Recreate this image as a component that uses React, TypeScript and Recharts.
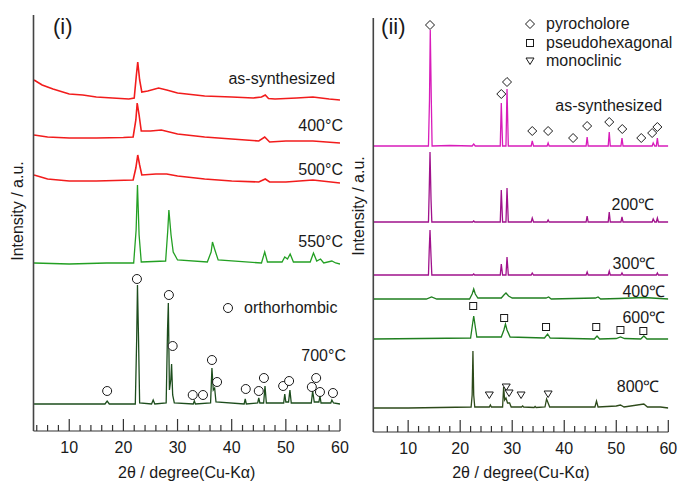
import {
  ComposedChart,
  Line,
  Scatter,
  XAxis,
  YAxis,
  ReferenceDot,
  Legend,
} from 'recharts';

type Pt = [number, number];

// ---- panel (i): 2θ (deg) / stacked intensity (a.u.) ----
const iSynth: Pt[] = [
  [3.5, 351], [5, 346], [7, 342], [10, 337], [12.5, 336], [15, 334], [18, 333],
  [21, 332], [22, 333], [22.4, 356], [22.65, 369], [23, 351], [23.4, 339],
  [24.5, 340], [26.5, 343], [28, 341], [30, 338], [35, 335], [40, 334],
  [44, 333], [45.5, 334], [46.2, 336], [46.8, 332.5], [48, 332], [52, 333],
  [55, 334], [58, 332], [60, 331],
];
const i400: Pt[] = [
  [3.5, 296], [6, 294], [10, 293], [15, 293], [20, 293.5], [21.8, 294],
  [22.3, 311], [22.55, 328], [22.9, 316], [23.3, 300], [25, 300], [27, 301],
  [30, 297], [35, 294], [40, 292], [45, 290], [46.1, 294], [47, 289],
  [50, 290], [55, 290], [60, 288],
];
const i500: Pt[] = [
  [3.5, 256], [6, 252], [10, 250], [15, 250], [21.8, 251], [22.3, 263],
  [22.65, 276], [23, 266], [23.4, 256], [26, 257], [28, 257], [30, 255],
  [35, 252], [40, 250], [45, 249], [46.2, 252], [47, 249], [50, 249],
  [55, 251], [60, 248],
];
const i550: Pt[] = [
  [3.5, 168], [10, 167], [16.9, 168], [21.9, 168], [22.35, 201], [22.6, 246],
  [22.9, 196], [23.3, 169], [27.8, 170], [28.2, 201], [28.4, 221], [28.8, 196],
  [29.2, 179], [30, 171], [35.5, 169], [36.2, 179], [36.45, 189], [36.9, 181],
  [37.5, 171], [45.5, 168], [46.1, 179], [46.6, 169], [49.3, 169], [49.8, 174],
  [50.3, 172], [50.8, 177], [51.4, 169], [54.5, 169], [55.1, 178], [55.7, 170],
  [56.4, 172], [57, 168], [58.5, 170], [59.2, 168], [60, 167],
];
const i700: Pt[] = [
  [3.5, 27], [16.6, 27], [17, 30], [17.4, 27], [22.2, 27], [22.45, 91],
  [22.6, 146], [22.8, 91], [23, 28], [25.2, 27], [25.5, 31], [25.8, 27],
  [27.9, 28], [28.15, 101], [28.3, 128], [28.5, 41], [28.75, 51], [28.9, 67],
  [29.1, 36], [29.4, 28], [32.9, 27], [33.1, 30], [33.3, 27], [36.1, 28],
  [36.35, 63], [36.6, 41], [36.85, 43], [37.1, 29], [42.3, 27], [42.5, 32],
  [42.7, 27], [44.8, 28], [45, 33], [45.2, 28], [45.9, 28], [46.15, 45],
  [46.4, 28], [49.6, 28], [49.8, 37], [50, 29], [50.5, 29], [50.75, 41],
  [51, 28], [54.7, 28], [54.95, 40], [55.25, 29], [56.1, 29], [56.3, 35],
  [56.5, 28], [58.3, 28], [58.5, 31], [58.8, 28], [60, 27],
];
const orthoMarks: Pt[] = [
  [17, 40], [22.5, 152], [28.4, 136], [29.1, 85], [32.8, 36], [34.7, 36],
  [36.35, 71], [37.3, 49], [42.6, 42], [45, 40], [45.95, 53], [49.5, 45],
  [50.6, 50], [54.8, 44], [55.6, 53], [56.3, 39], [58.7, 38],
];

// ---- panel (ii) ----
const iiSynth: Pt[] = [
  [3.3, 286], [13.9, 286], [14.1, 332], [14.25, 402], [14.45, 332], [14.6, 286],
  [18, 286.5], [22.3, 286], [22.6, 288], [22.9, 286], [27.7, 286], [27.9, 329],
  [28.15, 286], [28.8, 286], [29.0, 343], [29.25, 286], [33.65, 286], [33.85, 291],
  [34.1, 286], [36.7, 286], [36.9, 289], [37.1, 286], [44.2, 286], [44.4, 295],
  [44.6, 286], [48.45, 286], [48.65, 300], [48.85, 286], [50.9, 286], [51.1, 294],
  [51.3, 286], [56.9, 286], [57.1, 289], [57.4, 286], [57.7, 286], [57.9, 294],
  [58.1, 286], [60, 286],
];
const ii200: Pt[] = [
  [3.3, 210], [13.9, 210], [14.05, 242], [14.2, 280], [14.4, 232], [14.55, 210],
  [22.4, 210], [22.6, 211], [22.8, 210], [27.7, 210], [27.9, 242], [28.15, 210],
  [28.8, 210], [29.0, 244], [29.25, 210], [33.65, 210], [33.85, 214], [34.1, 210],
  [36.7, 210], [36.9, 212], [37.1, 210], [44.2, 210], [44.4, 216], [44.6, 210],
  [48.45, 210], [48.65, 220], [48.85, 210], [50.9, 210], [51.1, 215], [51.3, 210],
  [56.9, 210], [57.1, 213], [57.4, 210], [57.7, 210], [57.9, 214], [58.1, 210],
  [60, 210],
];
const ii300: Pt[] = [
  [3.3, 157], [13.9, 157], [14.05, 182], [14.2, 202], [14.4, 175], [14.55, 157],
  [22.4, 157], [22.6, 158], [22.8, 157], [27.7, 157], [27.9, 168], [28.15, 157],
  [28.8, 157], [29.0, 175], [29.25, 157], [33.65, 157], [33.85, 159], [34.1, 157],
  [44.2, 157], [44.4, 160], [44.6, 157], [48.45, 157], [48.65, 161], [48.85, 157],
  [50.9, 157], [51.1, 159], [51.3, 157], [57.7, 157], [57.9, 159], [58.1, 157],
  [60, 157],
];
const ii400: Pt[] = [
  [3.3, 133], [13.5, 133], [14.5, 135], [15.5, 133], [21.8, 133], [22.3, 138],
  [22.6, 143], [22.9, 138], [23.4, 134], [27.9, 134], [28.4, 137], [28.8, 139],
  [29.3, 136], [30, 134], [36.5, 134], [37, 135], [37.5, 133], [46, 134],
  [46.5, 135], [47, 133], [50.5, 133.5], [55.2, 134.5], [60, 133],
];
const ii600: Pt[] = [
  [3.3, 93], [22, 94], [22.35, 107], [22.6, 116], [22.85, 107], [23.2, 95],
  [27.9, 95], [28.4, 102], [28.7, 108], [29, 102], [29.6, 95], [36.2, 94],
  [36.8, 98], [37.3, 94], [45.8, 93], [46.3, 96], [46.8, 93], [50, 93.5],
  [50.8, 95], [51.6, 93.5], [54.7, 93], [55.3, 96], [55.9, 93], [60, 93],
];
const ii800: Pt[] = [
  [3.3, 24], [10, 24], [22.1, 25], [22.3, 37], [22.45, 81], [22.6, 37],
  [22.8, 25], [25.6, 25], [25.8, 27], [26, 25], [28.15, 25], [28.35, 45],
  [28.55, 32], [28.8, 34], [29.1, 29], [29.5, 29], [29.8, 25], [31.8, 25],
  [32, 26], [32.2, 25], [34.2, 24.5], [34.4, 25.5], [34.6, 24.5], [36.3, 25],
  [36.6, 33], [36.9, 29], [37.2, 25], [45.9, 25], [46.2, 31], [46.5, 25],
  [50, 26], [50.8, 27], [51.5, 25], [55.3, 28], [56, 25], [58.5, 25], [60, 24],
];
const pyroMarks: Pt[] = [
  [14.2, 407], [27.9, 338], [29.0, 350], [33.85, 301], [36.9, 301], [41.7, 294],
  [44.4, 306], [48.65, 310], [51.15, 303], [54.8, 294], [56.9, 299], [57.9, 305],
];
const hexMarks: Pt[] = [
  [22.5, 126], [28.45, 114], [36.5, 105], [46.15, 105], [50.8, 102], [55.2, 101],
];
const monoMarks: Pt[] = [
  [25.6, 37], [28.85, 45], [29.4, 39], [31.7, 37], [36.9, 38],
];

// trace labels: [2θ at right end of text, intensity, text]
const iLabels: [number, number, string][] = [
  [59.1, 353, 'as-synthesized'],
  [60.55, 306, '400°C'],
  [60.55, 262, '500°C'],
  [60.55, 190, '550°C'],
  [61.1, 76, '700°C'],
];
const iiLabels: [number, number, string][] = [
  [58.8, 327, 'as-synthesized'],
  [57.3, 228, '200℃'],
  [57.5, 169, '300℃'],
  [59.4, 141, '400℃'],
  [59.4, 115, '600℃'],
  [58.3, 46, '800℃'],
];

const iTicks = [4, 6, 8, 10, 12, 14, 16, 18, 20, 22, 24, 26, 28, 30, 32, 34, 36, 38, 40, 42, 44, 46, 48, 50, 52, 54, 56, 58, 60];
const iiTicks = iTicks.slice(1);

const iLegend = [{ name: 'orthorhombic', shape: 'circle' }];
const iiLegend = [
  { name: 'pyrocholore', shape: 'diamond' },
  { name: 'pseudohexagonal', shape: 'square' },
  { name: 'monoclinic', shape: 'triangle' },
];

const FONT = '"Liberation Sans", Arial, sans-serif';
const INK = '#1a1a1a';

const toXY = (pts: Pt[]) => pts.map(([x, y]) => ({ x, y }));

const Marker = ({ cx, cy, shape }: { cx: number; cy: number; shape: string }) => {
  const p = { fill: '#fff', stroke: INK, strokeWidth: 1 };
  if (shape === 'diamond')
    return <polygon points={`${cx},${cy - 4.5} ${cx + 4.5},${cy} ${cx},${cy + 4.5} ${cx - 4.5},${cy}`} {...p} />;
  if (shape === 'square') return <rect x={cx - 3.5} y={cy - 3.5} width={7} height={7} {...p} />;
  if (shape === 'triangle')
    return <polygon points={`${cx - 4},${cy - 3} ${cx + 4},${cy - 3} ${cx},${cy + 3.5}`} {...p} />;
  return <circle cx={cx} cy={cy} r={4.5} {...p} />;
};

const Tick = ({ x, y, payload }: any) => {
  const major = payload.value % 10 === 0;
  return (
    <g>
      <line x1={x} x2={x} y1={y} y2={y - (major ? 12 : 6)} stroke="#333" strokeWidth={1.2} />
      {major && (
        <text x={x} y={y + 16} textAnchor="middle" dominantBaseline="central" fontSize={16} fill={INK} fontFamily={FONT}>
          {payload.value}
        </text>
      )}
    </g>
  );
};

const yTitle = (dx: number, dy: number) => (props: any) => {
  const { x, y, width, height } = props.viewBox;
  const cx = x + width / 2 + dx;
  const cy = y + height / 2 + dy;
  return (
    <text x={cx} y={cy} transform={`rotate(-90 ${cx} ${cy})`} textAnchor="middle" dominantBaseline="central" fontSize={16} fill={INK} fontFamily={FONT}>
      Intensity / a.u.
    </text>
  );
};

const legendBox = (items: { name: string; shape: string }[]) => () => (
  <div style={{ fontFamily: FONT, fontSize: 16, color: INK }}>
    {items.map((it) => (
      <div key={it.name} style={{ display: 'flex', alignItems: 'center', height: 18.5 }}>
        <svg width={14} height={18}>
          <Marker cx={7} cy={9} shape={it.shape} />
        </svg>
        <span style={{ marginLeft: 9, lineHeight: '18px' }}>{it.name}</span>
      </div>
    ))}
  </div>
);

type Trace = { pts: Pt[]; color: string; width: number };

type PanelProps = {
  width: number;
  margin: { top: number; right: number; bottom: number; left: number };
  xDomain: [number, number];
  yMax: number;
  ticks: number[];
  traces: Trace[];
  marks: { pts: Pt[]; shape: string }[];
  labels: [number, number, string][];
  tag: [number, number, string];
  legend: { name: string; shape: string }[];
  legendPos: { left: number; top: number };
  xAxisHeight: number;
  titleShift: [number, number];
};

const Panel = (p: PanelProps) => (
  <ComposedChart width={p.width} height={481} margin={p.margin}>
    <XAxis
      type="number"
      dataKey="x"
      domain={p.xDomain}
      allowDataOverflow
      ticks={p.ticks}
      interval={0}
      tick={<Tick />}
      tickLine={false}
      tickSize={0}
      tickMargin={0}
      height={p.xAxisHeight}
      axisLine={{ stroke: '#333', strokeWidth: 1.2 }}
      label={{ value: '2θ / degree(Cu-Kα)', position: 'insideBottom', offset: 3, fontSize: 16, fill: INK, fontFamily: FONT }}
    />
    <YAxis
      type="number"
      dataKey="y"
      domain={[0, p.yMax]}
      allowDataOverflow
      tick={false}
      tickLine={false}
      width={30}
      axisLine={{ stroke: '#444', strokeWidth: 1.6 }}
      label={{ content: yTitle(p.titleShift[0], p.titleShift[1]) }}
    />
    {p.traces.map((t, i) => (
      <Line
        key={i}
        data={toXY(t.pts)}
        dataKey="y"
        type="linear"
        stroke={t.color}
        strokeWidth={t.width}
        dot={false}
        activeDot={false}
        isAnimationActive={false}
      />
    ))}
    {p.marks.map((m) => (
      <Scatter
        key={m.shape}
        data={toXY(m.pts)}
        dataKey="y"
        isAnimationActive={false}
        shape={(s: any) => <Marker cx={s.cx} cy={s.cy} shape={m.shape} />}
      />
    ))}
    {p.labels.map(([x, y, text]) => (
      <ReferenceDot
        key={text}
        x={x}
        y={y}
        r={0}
        ifOverflow="visible"
        label={{ value: text, position: 'left', offset: 0, fontSize: 16, fill: INK, fontFamily: FONT }}
      />
    ))}
    <ReferenceDot
      x={p.tag[0]}
      y={p.tag[1]}
      r={0}
      ifOverflow="visible"
      label={{ value: p.tag[2], position: 'right', offset: 0, fontSize: 22, fill: INK, fontFamily: FONT }}
    />
    <Legend
      layout="vertical"
      align="center"
      verticalAlign="middle"
      wrapperStyle={{ left: p.legendPos.left, top: p.legendPos.top, width: 'auto', height: 'auto' }}
      content={legendBox(p.legend)}
    />
  </ComposedChart>
);

export default function App() {
  return (
    <div style={{ position: 'absolute', left: 0, top: 0, width: 678, height: 481, background: '#fff' }}>
      <div style={{ position: 'absolute', left: 0, top: 0 }}>
        <Panel
          width={352}
          margin={{ top: 15, right: 12, bottom: 0, left: 3.5 }}
          xDomain={[3.4, 60]}
          yMax={416}
          ticks={iTicks}
          xAxisHeight={50}
          traces={[
            { pts: iSynth, color: '#f21c1c', width: 1.6 },
            { pts: i400, color: '#f21c1c', width: 1.6 },
            { pts: i500, color: '#f21c1c', width: 1.6 },
            { pts: i550, color: '#23a023', width: 1.3 },
            { pts: i700, color: '#1d4d1d', width: 1.3 },
          ]}
          marks={[{ pts: orthoMarks, shape: 'circle' }]}
          labels={iLabels}
          tag={[7, 405, '(i)']}
          legend={iLegend}
          legendPos={{ left: 221, top: 299 }}
          titleShift={[-1.5, -12]}
        />
      </div>
      <div style={{ position: 'absolute', left: 340, top: 0 }}>
        <Panel
          width={338}
          margin={{ top: 18, right: 9.7, bottom: 0, left: 3.3 }}
          xDomain={[3.3, 60]}
          yMax={414}
          ticks={iiTicks}
          xAxisHeight={49}
          traces={[
            { pts: iiSynth, color: '#d81cba', width: 1.3 },
            { pts: ii200, color: '#a0128c', width: 1.3 },
            { pts: ii300, color: '#a0128c', width: 1.3 },
            { pts: ii400, color: '#1f7f1f', width: 1.3 },
            { pts: ii600, color: '#1f7f1f', width: 1.3 },
            { pts: ii800, color: '#2d4a1a', width: 1.3 },
          ]}
          marks={[
            { pts: pyroMarks, shape: 'diamond' },
            { pts: hexMarks, shape: 'square' },
            { pts: monoMarks, shape: 'triangle' },
          ]}
          labels={iiLabels}
          tag={[4.8, 406, '(ii)']}
          legend={iiLegend}
          legendPos={{ left: 183, top: 15 }}
          titleShift={[0, -19]}
        />
      </div>
    </div>
  );
}
